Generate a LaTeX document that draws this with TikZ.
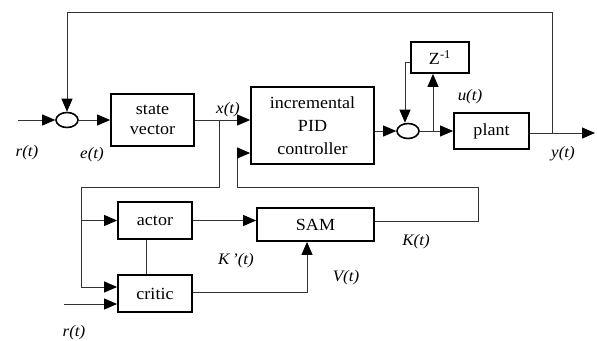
\documentclass[tikz,border=0pt]{standalone}
\usepackage{fontspec}
\setmainfont{Liberation Serif}[FakeStretch=1.06]
\usetikzlibrary{arrows.meta,shapes.geometric}
\begin{document}
\begin{tikzpicture}[x=1pt,y=-1pt,
  blk/.style={draw=black,line width=1.8pt,fill=white,inner sep=0pt,font=\fontsize{17}{20}\selectfont,align=center},
  sumnode/.style={draw=black,line width=1.6pt,ellipse,minimum width=22pt,minimum height=15pt,inner sep=0pt},
  wire/.style={draw=black!80,line width=0.9pt},
  arr/.style={wire,-{Triangle[length=13pt,width=11pt,color=black]}},
  lbl/.style={font=\fontsize{16}{18}\selectfont\itshape,inner sep=0pt}]
\useasboundingbox (0,0) rectangle (597,340);
% blocks
\node[sumnode] (s1) at (67,120) {};
\node[blk,minimum width=83pt,minimum height=52pt] (sv) at (152.5,120) {state\\vector};
\node[blk,minimum width=123pt,minimum height=77pt] (pid) at (312.5,125.5) {incremental\\[3pt]PID\\[3pt]controller};
\node[sumnode] (s2) at (408,131) {};
\node[blk,minimum width=75pt,minimum height=36pt] (plant) at (491.5,131) {plant};
\node[blk,minimum width=58pt,minimum height=31pt] (z) at (440,57.5) {Z\textsuperscript{-1}};
\node[blk,minimum width=74pt,minimum height=37pt] (actor) at (155,220.5) {actor};
\node[blk,minimum width=74pt,minimum height=37pt] (critic) at (155,293.5) {critic};
\node[blk,minimum width=117pt,minimum height=33pt] (sam) at (315.5,224.5) {SAM};
% coordinates
\coordinate (rin) at (18,120);
\coordinate (rin2) at (64,304);
\coordinate (yout) at (595,133);
\coordinate (yb) at (552,133);
\coordinate (xb) at (219,120);
\coordinate (ub) at (433,131);
% labels
\node[lbl] (lr) at (27,153) {r(t)};
\node[lbl] (le) at (92,155) {e(t)};
\node[lbl] (lx) at (228,110) {x(t)};
\node[lbl] (lu) at (470,97) {u(t)};
\node[lbl] (ly) at (563,154) {y(t)};
\node[lbl] (lkp) at (236,261) {K\,'(t)};
\node[lbl] (lv) at (346,278) {V(t)};
\node[lbl] (lk) at (416,242) {K(t)};
\node[lbl] (lr2) at (74,333) {r(t)};
% main path
\draw[arr] (rin) -- (s1.west);
\draw[arr] (s1.east) -- (sv.west);
\draw[arr] (sv.east) -- (sv.east -| pid.west);
\draw[arr] (pid.east |- s2) -- (s2.west);
\draw[arr] (s2.east) -- (plant.west);
\draw[arr] (plant.east |- yout) -- (yout);
% top feedback
\draw[arr] (yb) -- (552,12.5) -- (s1.north |- 0,12.5) -- (s1.north);
% delay loop
\draw[arr] (ub) -- (ub |- z.south);
\draw[arr] (z.west |- 0,62) -- (405,62) -- (405,62 |- s2.north);
% state to actor/critic
\draw[wire] (xb) -- (219,187) -- (81,187) -- (81,287);
\draw[arr] (81,220.5) -- (actor.west);
\draw[arr] (81,287) -- (critic.west |- 0,287);
\draw[arr] (rin2) -- (critic.west |- rin2);
\draw[wire] (actor.south -| 146,0) -- (critic.north -| 146,0);
% actor/critic to SAM
\draw[arr] (actor.east) -- (actor.east -| sam.west);
\draw[arr] (critic.east |- 0,292) -- (307,292) -- (307,292 |- sam.south);
% SAM to PID
\draw[arr] (sam.east |- 0,221) -- (478,221) -- (478,187) -- (237,187) -- (237,153) -- (pid.west |- 0,153);
\end{tikzpicture}
\end{document}
